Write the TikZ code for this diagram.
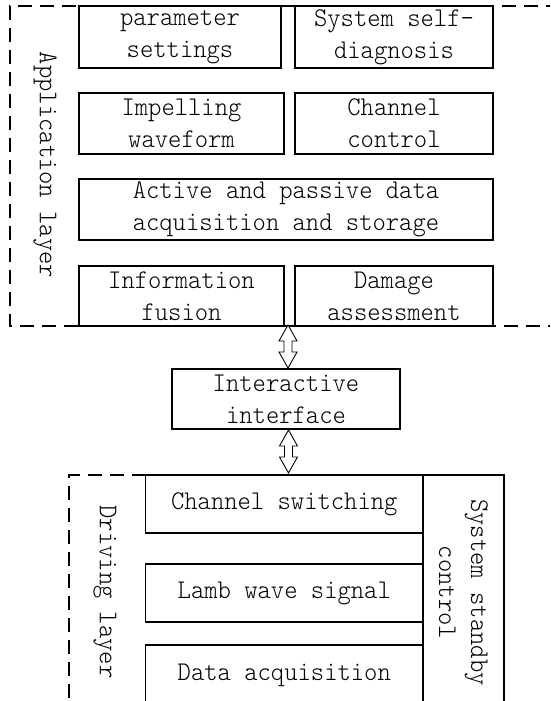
\documentclass[tikz,border=0pt]{standalone}
\usepackage{fontspec}
\newfontfamily\labelfont{Latin Modern Mono Light}[FakeStretch=0.94]
\usetikzlibrary{calc}

\tikzset{
  blk/.style={draw, line width=1.3pt, align=center, inner sep=0pt,
    font=\labelfont\fontsize{27}{32}\selectfont},
  layer/.style={draw, line width=1.3pt, dash pattern=on 14pt off 8pt},
  layertext/.style={rotate=-90, font=\labelfont\fontsize{27}{32}\selectfont},
  dblarrow/.pic={
    \draw[line width=0.9pt, fill=white]
      (0,0) -- (9,16) -- (4,16) -- (4,27) -- (9,27) -- (0,43)
      -- (-9,27) -- (-4,27) -- (-4,16) -- (-9,16) -- cycle;
  }
}

\begin{document}
\begin{tikzpicture}[x=1pt, y=-1pt]
\useasboundingbox (0,0) rectangle (550,701);
\clip (0,0) rectangle (550,701);

% application layer frame (open to the right)
\draw[layer] (560,6) -- (10,6) -- (10,326) -- (560,326);
\node[layertext] (applbl) at (45,165) {Application layer};

\node[blk, minimum width=202, minimum height=62] (param) at (180,37) {parameter\\settings};
\node[blk, minimum width=198, minimum height=62] (diag) at (394,37) {System self-\\diagnosis};
\node[blk, minimum width=205, minimum height=61] (impel) at (181.5,123.5) {Impelling\\waveform};
\node[blk, minimum width=198, minimum height=61] (chctl) at (394,123.5) {Channel\\control};
\node[blk, minimum width=414, minimum height=61] (daq) at (286,209.5) {Active and passive data\\acquisition and storage};
\node[blk, minimum width=205, minimum height=60] (fusion) at (181.5,296) {Information\\fusion};
\node[blk, minimum width=198, minimum height=60] (damage) at (394,296) {Damage\\assessment};

% interface between the layers
\node[blk, minimum width=228, minimum height=60] (iface) at (286,399) {Interactive\\interface};

\coordinate (appbase) at (288,325);
\coordinate (ifbase) at (288.5,430);
\pic at (appbase) {dblarrow};
\pic at (ifbase) {dblarrow};

% driving layer frame (open below)
\draw[layer] (145.6,475) -- (69,475) -- (69,720);
\node[layertext] (drvlbl) at (105,592) {Driving layer};

\node[blk, minimum width=277.4, minimum height=58] (chsw) at (284.3,504) {Channel switching};
\node[blk, minimum width=277.4, minimum height=58] (lamb) at (284.3,593) {Lamb wave signal};
\node[blk, minimum width=277.4, minimum height=60] (acq) at (284.3,675) {Data acquisition};
\node[blk, rotate=-90, minimum width=235, minimum height=81] (standby) at (463.5,592.5) {System standby\\control};
\end{tikzpicture}
\end{document}
